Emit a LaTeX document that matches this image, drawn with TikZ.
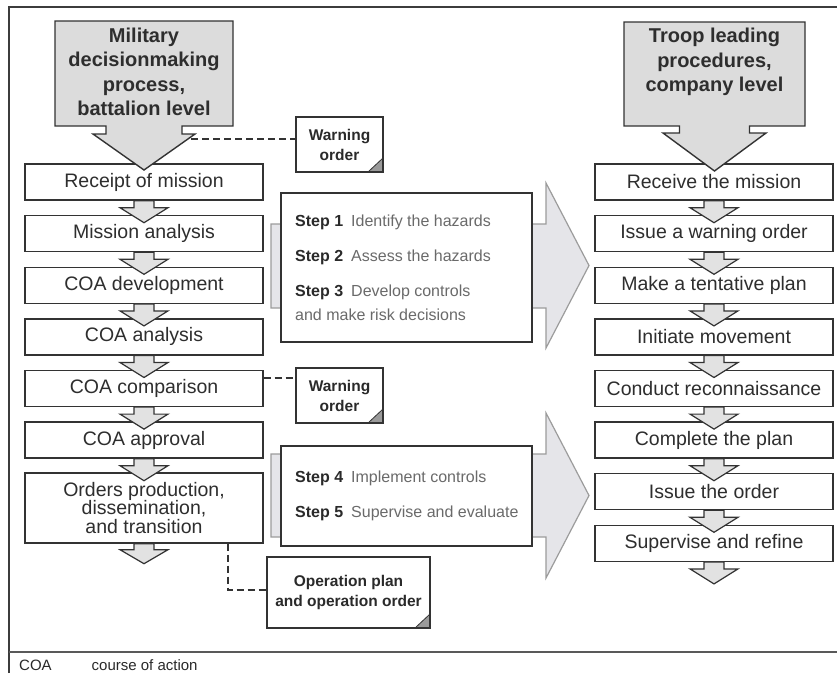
\documentclass[tikz,border=0pt]{standalone}
\usepackage{fontspec}
\setmainfont{Liberation Sans}
\usetikzlibrary{calc}
\definecolor{boxline}{HTML}{333333}
\definecolor{txt}{HTML}{2E2E2E}
\definecolor{hdrfill}{HTML}{DCDCDC}
\definecolor{arrfill}{HTML}{E2E2E2}
\definecolor{bigfill}{HTML}{E5E5E9}
\definecolor{bigline}{HTML}{9C9C9C}
\definecolor{stepgray}{HTML}{6A6A6A}
\definecolor{stepdark}{HTML}{2A2A2A}
\definecolor{cornergray}{HTML}{9A9A9A}
\definecolor{framecol}{HTML}{3C3C3C}
\newcommand{\flowarrow}[1]{%
  \filldraw[smallarr] ($(#1.south)+(-10,0)$) -- ($(#1.south)+(-10,7)$) -- ($(#1.south)+(-24,7)$)
    -- ($(#1.south)+(0,22)$) -- ($(#1.south)+(24,7)$) -- ($(#1.south)+(10,7)$) -- ($(#1.south)+(10,0)$) -- cycle;}
\tikzset{
  flowbox/.style={draw=boxline, line width=1.4pt, fill=white, minimum width=238pt, minimum height=36pt,
    inner sep=0pt, align=center, text=txt, font=\fontsize{19.5}{18.5}\selectfont},
  smallarr/.style={fill=arrfill, draw=boxline, line width=1.2pt, line join=miter},
  hdrshape/.style={fill=hdrfill, draw=boxline, line width=1.4pt, line join=miter},
  hdrtext/.style={align=center, text=txt, inner sep=0pt, font=\bfseries\fontsize{20}{24.5}\selectfont},
  bigarr/.style={fill=bigfill, draw=bigline, line width=1.2pt, line join=miter},
  stepbox/.style={draw=boxline, line width=1.4pt, fill=white, minimum width=251pt, inner sep=0pt},
  steptext/.style={anchor=west, inner sep=0pt, text=stepgray, font=\fontsize{16}{19}\selectfont},
  docbox/.style={draw=boxline, line width=1.3pt, fill=white, inner sep=0pt, align=center, text=stepdark,
    font=\bfseries\fontsize{15.5}{20}\selectfont,
    path picture={\filldraw[fill=cornergray, draw=boxline, line width=0.8pt]
      ($(path picture bounding box.south east)+(-15,0)$) -- (path picture bounding box.south east)
      -- ($(path picture bounding box.south east)+(0,-14)$) -- cycle;}},
  dashline/.style={draw=boxline, line width=1.3pt, dash pattern=on 7pt off 4pt},
  foot/.style={anchor=west, inner sep=0pt, text=stepdark, font=\fontsize{15}{18}\selectfont}
}
\newcommand{\stp}[1]{\textbf{\color{stepdark}Step #1}\hspace{0.5em}}
\begin{document}
\begin{tikzpicture}[x=1pt,y=-1pt]
\useasboundingbox (0,0) rectangle (837,673);
\fill[white] (0,0) rectangle (837,673);
% frame
\draw[framecol, line width=2pt] (9,673) -- (9,7) -- (837,7);
\draw[framecol!85, line width=2pt] (9,652) -- (837,652);

% big arrows
\filldraw[bigarr] (271,224) -- (546,224) -- (546,183) -- (589,265.5) -- (546,348) -- (546,308) -- (271,308) -- cycle;
\filldraw[bigarr] (271,454) -- (546,454) -- (546,413) -- (589,495.5) -- (546,578) -- (546,537) -- (271,537) -- cycle;

% step boxes
\node[stepbox, minimum height=149pt] (sb1) at (406.5,267.5) {};
\node[stepbox, minimum height=100pt] (sb2) at (406.5,496) {};
\node[steptext] (s1) at (295,222) {\stp{1}Identify the hazards};
\node[steptext] (s2) at (295,257) {\stp{2}Assess the hazards};
\node[steptext] (s3) at (295,292) {\stp{3}Develop controls};
\node[steptext] (s3b) at (295,315) {and make risk decisions};
\node[steptext] (s4) at (295,478) {\stp{4}Implement controls};
\node[steptext] (s5) at (295,513) {\stp{5}Supervise and evaluate};

% left column
\node[flowbox] (L1) at (144,182) {Receipt of mission};
\node[flowbox] (L2) at (144,233.6) {Mission analysis};
\node[flowbox] (L3) at (144,285.2) {COA development};
\node[flowbox] (L4) at (144,336.8) {COA analysis};
\node[flowbox] (L5) at (144,388.4) {COA comparison};
\node[flowbox] (L6) at (144,440) {COA approval};
\node[flowbox, minimum height=70pt] (L7) at (144,508) {Orders production,\\dissemination,\\and transition};

% right column
\node[flowbox] (R1) at (714,182) {Receive the mission};
\node[flowbox] (R2) at (714,233.6) {Issue a warning order};
\node[flowbox] (R3) at (714,285.2) {Make a tentative plan};
\node[flowbox] (R4) at (714,336.8) {Initiate movement};
\node[flowbox] (R5) at (714,388.4) {Conduct reconnaissance};
\node[flowbox] (R6) at (714,440) {Complete the plan};
\node[flowbox] (R7) at (714,491.6) {Issue the order};
\node[flowbox] (R8) at (714,543.2) {Supervise and refine};

% small arrows
\foreach \n in {L1,L2,L3,L4,L5,L6,R1,R2,R3,R4,R5,R6,R7,R8} {\flowarrow{\n}}
\filldraw[smallarr] ($(L7.south)+(-10,0)$) -- ($(L7.south)+(-10,6)$) -- ($(L7.south)+(-24,6)$)
    -- ($(L7.south)+(0,20)$) -- ($(L7.south)+(24,6)$) -- ($(L7.south)+(10,6)$) -- ($(L7.south)+(10,0)$) -- cycle;

% header arrows
\filldraw[hdrshape] (55,21) -- (233,21) -- (233,126) -- (182,126) -- (182,134) -- (195,134) -- (144,170)
  -- (93,134) -- (106,134) -- (106,126) -- (55,126) -- cycle;
\node[hdrtext] (hL) at (144,72) {Military\\decisionmaking\\process,\\battalion level};
\filldraw[hdrshape] (624,22) -- (805,22) -- (805,126) -- (749.5,126) -- (749.5,133) -- (766,133) -- (714.5,171)
  -- (663,133) -- (679.5,133) -- (679.5,126) -- (624,126) -- cycle;
\node[hdrtext] (hR) at (714.5,62) {Troop leading\\procedures,\\company level};

% documents
\node[docbox, minimum width=87pt, minimum height=55pt] (w1) at (339.5,144.5) {Warning\\order};
\node[docbox, minimum width=87pt, minimum height=55pt] (w2) at (339.5,395.5) {Warning\\order};
\node[docbox, minimum width=163pt, minimum height=71pt] (op) at (348.5,592.5) {Operation plan\\and operation order};

% dashed connectors
\coordinate (d1) at (191,139);
\draw[dashline] (d1) -- (w1.west |- d1);
\coordinate (d2) at (0,378);
\draw[dashline] (L5.east |- d2) -- (w2.west |- d2);
\coordinate (d3) at (228,590);
\draw[dashline] (L7.south -| d3) -- (d3) -- (op.west |- d3);

% footer
\node[foot] (fa) at (19,665) {COA};
\node[foot] (fb) at (91.5,665) {course of action};
\end{tikzpicture}
\end{document}
